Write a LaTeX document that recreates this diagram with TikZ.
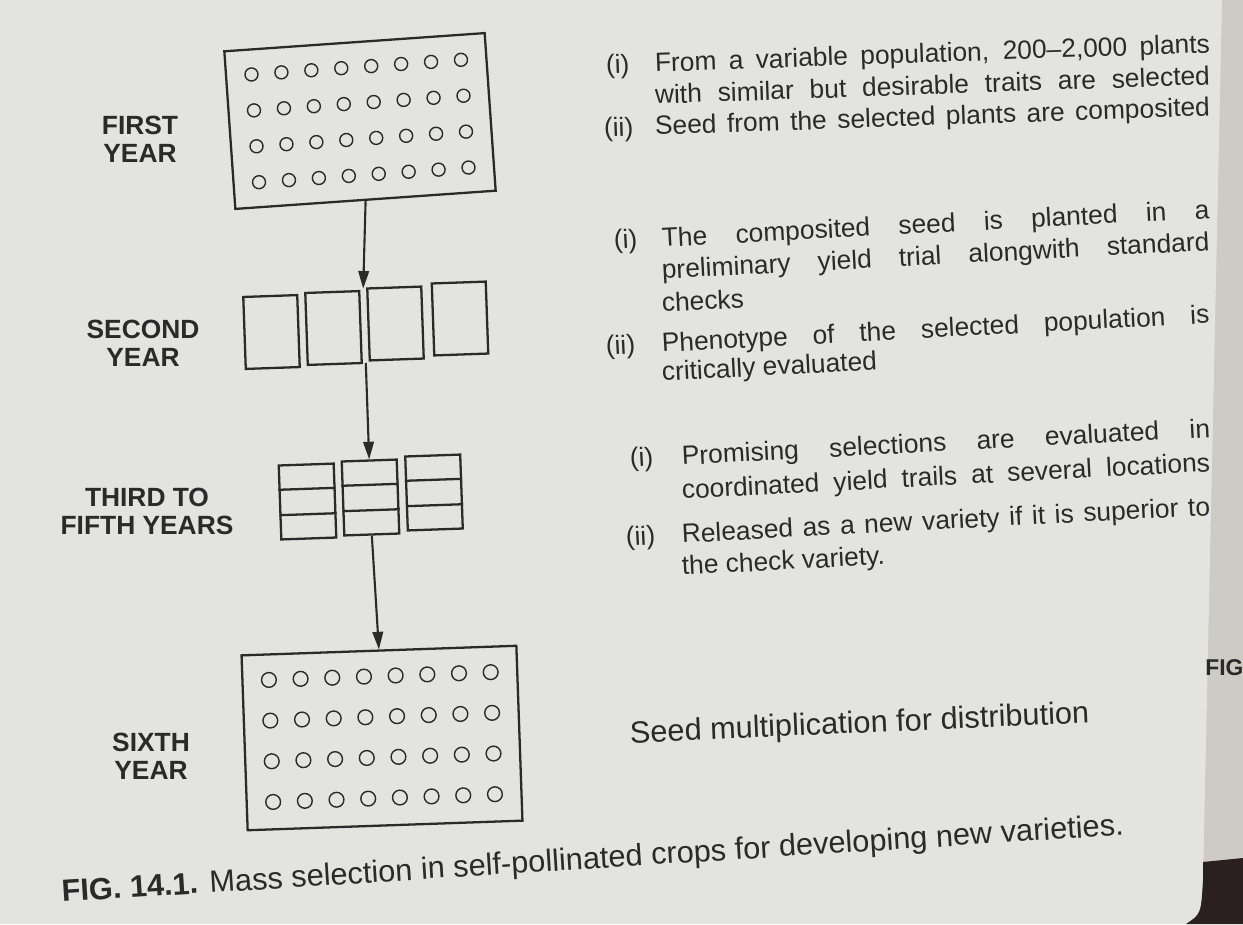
\documentclass[tikz,border=0pt]{standalone}
\usepackage{fontspec}
\setmainfont{Liberation Sans}
\usepackage{xcolor}
\usepackage{tikz}
\usetikzlibrary{arrows.meta,positioning,calc}

\definecolor{paper}{RGB}{227,228,224}
\definecolor{nextpage}{RGB}{206,202,196}
\definecolor{ink}{RGB}{42,42,42}
\definecolor{shadow}{RGB}{42,32,32}

\tikzset{
  plot/.style={draw=ink, line width=1.3pt, inner sep=0pt},
  cell/.style={plot, minimum width=1.08cm, minimum height=1.44cm, rotate=2},
  strip/.style={plot, minimum width=1.1cm, minimum height=1.48cm, rotate=2},
  seed/.style={draw=ink, line width=0.8pt},
  flow/.style={draw=ink, line width=1.2pt, -{Triangle[length=10pt,width=6pt]}},
  year/.style={font=\fontsize{15}{16}\selectfont\bfseries, text=ink, align=center, inner sep=0pt},
  note/.style={font=\fontsize{15}{18}\selectfont, text=ink, anchor=base west, inner sep=0pt},
}
\newcommand{\jline}[2]{\makebox[#1][s]{#2}}

\begin{document}
\begin{tikzpicture}[x=0.02cm, y=-0.02cm]
    % Photo of the page
    \useasboundingbox (0,0) rectangle (1243,924);
    \fill[nextpage] (0,0) rectangle (1243,924);
    \fill[paper] (0,0) -- (1222,0) -- (1203,880) .. controls (1201,914) .. (1186,924) -- (0,924) -- cycle;
    \fill[shadow] (1203,862) -- (1243,858) -- (1243,924) -- (1186,924) .. controls (1201,914) .. (1203,880) -- cycle;
    \node[year, font=\fontsize{13}{14}\selectfont\bfseries, anchor=base west] (nxt) at (1205,675) {FIG};

    % First year
    \node[plot, minimum width=5.22cm, minimum height=3.16cm, rotate=4] (first) at (360,121) {};
    \begin{scope}[shift={(first.center)}, rotate=4]
      \foreach \c in {0,...,7}
        \foreach \r in {0,...,3}
          \draw[seed] (-105+30*\c,-54+36*\r) circle[radius=3.7pt];
    \end{scope}
    \node[year] (lab1) at (140,139) {FIRST\\YEAR};

    % Second year
    \node[cell] (s1) at (271.5,332) {};
    \node[cell] (s2) at (333.5,328) {};
    \node[cell] (s3) at (395.5,323.5) {};
    \node[cell] (s4) at (460,318.5) {};
    \coordinate (sectop) at ($(s2.north east)!0.5!(s3.north west)$);
    \coordinate (secbot) at ($(s2.south east)!0.5!(s3.south west)$);
    \node[year] (lab2) at (143,343) {SECOND\\YEAR};

    % Third to fifth years
    \node[strip] (t1) at (307.5,501.5) {};
    \node[strip] (t2) at (370.5,497.5) {};
    \node[strip] (t3) at (434,492.5) {};
    \foreach \n in {t1,t2,t3} {
      \draw[plot] ($(\n.north west)!1/3!(\n.south west)$) -- ($(\n.north east)!1/3!(\n.south east)$);
      \draw[plot] ($(\n.north west)!2/3!(\n.south west)$) -- ($(\n.north east)!2/3!(\n.south east)$);
    }
    \node[year] (lab3) at (147,511) {THIRD TO\\FIFTH YEARS};

    % Sixth year
    \node[plot, minimum width=5.5cm, minimum height=3.5cm, rotate=2] (sixth) at (382,738) {};
    \begin{scope}[shift={(sixth.center)}, rotate=2]
      \foreach \c in {0,...,7}
        \foreach \r in {0,...,3}
          \draw[seed] (-111+31.7*\c,-62+40.7*\r) circle[radius=4.2pt];
    \end{scope}
    \node[year] (lab4) at (151,756) {SIXTH\\YEAR};

    % Arrows between the years
    \draw[flow] (first.south) -- (sectop);
    \draw[flow] (secbot) -- (t2.north);
    \draw[flow] (t2.south) -- (sixth.north);

    % Notes, first year
    \node[note, rotate=2] (m1a) at (606,74) {(i)};
    \node[note, rotate=2] (n1a) at (655,72) {\jline{316pt}{From a variable population, 200--2,000 plants}};
    \node[note, rotate=2] (n1b) at (655,104) {\jline{316pt}{with similar but desirable traits are selected}};
    \node[note, rotate=2] (m1b) at (604,137) {(ii)};
    \node[note, rotate=2] (n1c) at (655,135) {\jline{316pt}{Seed from the selected plants are composited}};

    % Notes, second year
    \node[note, rotate=3] (m2a) at (614,249) {(i)};
    \node[note, rotate=3] (n2a) at (662,247) {\jline{312pt}{The composited seed is planted in a}};
    \node[note, rotate=3] (n2b) at (662,279) {\jline{312pt}{preliminary yield trial alongwith standard}};
    \node[note, rotate=3] (n2c) at (662,312) {checks};
    \node[note, rotate=3] (m2b) at (606,355) {(ii)};
    \node[note, rotate=3] (n2d) at (662,352) {\jline{312pt}{Phenotype of the selected population is}};
    \node[note, rotate=3] (n2e) at (662,381) {critically evaluated};

    % Notes, third to fifth years
    \node[note, rotate=3] (m3a) at (630,467) {(i)};
    \node[note, rotate=3] (n3a) at (682,465) {\jline{301pt}{Promising selections are evaluated in}};
    \node[note, rotate=3] (n3b) at (682,499) {\jline{301pt}{coordinated yield trails at several locations}};
    \node[note, rotate=3] (m3b) at (626,546) {(ii)};
    \node[note, rotate=3] (n3c) at (682,543) {\jline{301pt}{Released as a new variety if it is superior to}};
    \node[note, rotate=3] (n3d) at (682,575) {the check variety.};

    % Notes, sixth year
    \node[note, rotate=2.5, font=\fontsize{17.5}{20}\selectfont] (n4a) at (630,743) {Seed multiplication for distribution};

    % Caption
    \node[note, rotate=3.6, font=\fontsize{17.5}{20}\selectfont] (cap) at (62,902) {\textbf{FIG. 14.1.} Mass selection in self-pollinated crops for developing new varieties.};
\end{tikzpicture}
\end{document}
